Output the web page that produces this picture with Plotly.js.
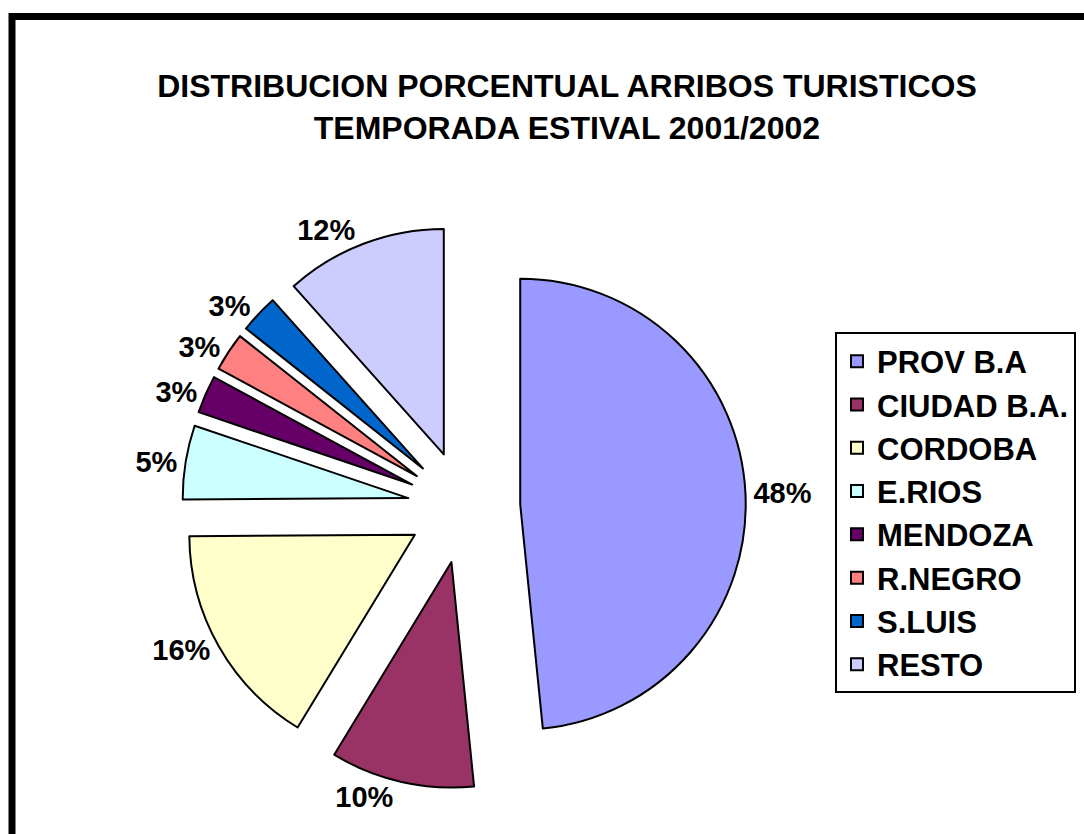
<!DOCTYPE html>
<html>
<head>
<meta charset="utf-8">
<script src="https://cdn.plot.ly/plotly-3.0.1.min.js"></script>
<style>
html,body{margin:0;padding:0;background:#fff;}
#chart{width:1084px;height:834px;}
</style>
</head>
<body>
<div id="chart"></div>
<script>
const categories = ["PROV B.A", "CIUDAD B.A.", "CORDOBA", "E.RIOS", "MENDOZA", "R.NEGRO", "S.LUIS", "RESTO"];
const shares = [48.4, 10.3, 16.2, 5.3, 2.7, 2.75, 2.75, 11.6];
const sliceColors = ["#9999FF", "#993366", "#FFFFCC", "#CCFFFF", "#660066", "#FF8080", "#0066CC", "#CCCCFF"];
const titleLines = ["DISTRIBUCION PORCENTUAL ARRIBOS TURISTICOS", "TEMPORADA ESTIVAL 2001/2002"];

const FONT = "Liberation Sans, Arial, Helvetica, sans-serif";

const trace = {
  type: "pie",
  labels: categories,
  values: shares,
  sort: false,
  direction: "clockwise",
  rotation: 0,
  pull: categories.map(() => 0.25),
  marker: { colors: sliceColors, line: { color: "#000", width: 2 } },
  textposition: "outside",
  texttemplate: "%{percent:.0%}",
  textfont: { family: FONT, size: 29, color: "#000", weight: "bold" },
  hoverinfo: "none",
  domain: { x: [0.1679, 0.6880], y: [0.0540, 0.7300] }
};

const layout = {
  width: 1084,
  height: 834,
  margin: { l: 0, r: 0, t: 0, b: 0 },
  paper_bgcolor: "#fff",
  font: { family: FONT, color: "#000" },
  title: {
    text: titleLines.join("<br>"),
    font: { family: FONT, size: 32, color: "#000", weight: "bold" },
    x: 0.523, xanchor: "center",
    y: 0.8837, yanchor: "middle",
    xref: "paper", yref: "paper"
  },
  showlegend: true,
  legend: {
    x: 0.7703, xanchor: "left",
    y: 0.3849, yanchor: "middle",
    bgcolor: "#fff",
    bordercolor: "#000",
    borderwidth: 2,
    font: { family: FONT, size: 31, color: "#000", weight: "bold" },
    traceorder: "normal"
  },
  shapes: [{
    type: "rect", xref: "paper", yref: "paper",
    x0: 0.01107, x1: 1.1, y0: -0.1, y1: 0.9802,
    line: { color: "#000", width: 7 }
  }]
};

Plotly.newPlot("chart", [trace], layout, { displayModeBar: false, staticPlot: true });
</script>
</body>
</html>
